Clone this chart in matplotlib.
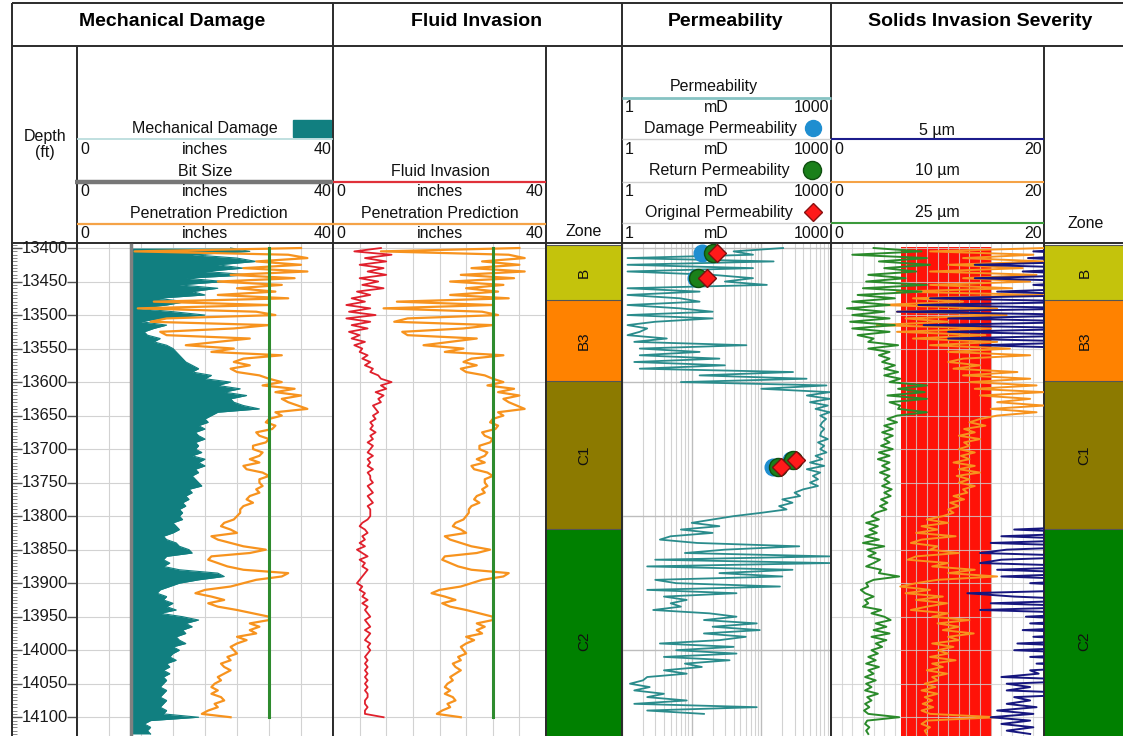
import numpy as np
import matplotlib
matplotlib.use("Agg")
import matplotlib.pyplot as plt
from matplotlib.ticker import MultipleLocator, LogLocator, NullFormatter
from matplotlib.patches import Rectangle

plt.rcParams['font.family'] = ['Liberation Sans', 'DejaVu Sans']

# ---------------- data (5 ft sampling from 13400 ft) ----------------
depth_start = 13400
depth_step = 5

mech_damage = [
    24, 27, 18, 25, 28, 22, 26, 20, 27, 17,
    23, 16, 22, 18, 20, 12.5, 17, 14, 9.5, 15,
    20, 13, 10, 14, 12, 10.5, 11, 13, 12, 14,
    15, 15.5, 16, 16.5, 17, 18, 19, 18, 21, 20,
    24, 22, 25.5, 23, 26.5, 24, 24.5, 26, 28.5, 22,
    21, 20, 20.5, 19, 20, 18.5, 19, 20, 18.5, 19,
    18.5, 19.5, 18, 20, 19, 20, 18.5, 19, 18, 18.5,
    19, 19.5, 17.5, 18, 17, 17.5, 16.5, 17, 16, 16.5,
    16, 16.5, 15, 15.5, 16, 15, 13.5, 14, 15.5, 16,
    17.5, 18, 14, 13.5, 14.5, 13.5, 16, 22, 23, 19,
    16, 14.5, 13, 12.5, 14, 13.5, 15, 14, 15.5, 13,
    16.5, 19, 17, 18, 16.5, 17, 15.5, 16, 17, 15,
    16, 15, 14.5, 15.5, 14, 14.5, 13.5, 14.5, 13.5, 14,
    13.5, 13, 14, 13.5, 13, 14, 13.5, 13, 14, 13.5,
    19, 11.5, 10.5, 11.5, 11, 11.5]

pen_prediction = [
    35, 9, 33, 36, 28, 35, 26, 36, 24, 34,
    22, 32, 25, 31, 22, 33, 12, 30, 9.5, 28,
    31, 14, 11.5, 30, 24.5, 13, 14, 27, 22, 17,
    24.5, 21, 32, 26, 24.5, 27, 24, 25, 28.5, 30,
    32, 29, 34, 31, 35, 32, 33, 34.5, 36, 31,
    32, 30, 29.5, 31, 30.5, 28, 28.5, 30, 29.5, 27.5,
    27.5, 29, 28.5, 27, 28.5, 26, 26.5, 29, 30, 28.5,
    28.5, 29, 28, 28.5, 27, 26.5, 27.5, 26, 25.5, 25.5,
    25, 24.5, 23, 22.5, 24, 25, 21, 22, 24, 26,
    29.5, 27, 21, 20.5, 22, 23.5, 26, 33, 32, 28,
    26, 24, 20, 18.5, 21, 23, 20.5, 22, 25, 27.5,
    30, 30, 27, 28.5, 27, 28, 25, 26.5, 25, 24,
    24.5, 25, 23.5, 24, 22.5, 23, 24, 23, 22, 22.5,
    21.5, 21, 22, 21, 22.5, 23, 21.5, 22, 20.5, 19.5,
    24]

fluid_invasion = [
    9, 4, 11, 6, 10, 5, 9.5, 6.5, 10, 5,
    8.5, 5.5, 9.5, 4.5, 7, 3.5, 6, 2.5, 7, 3,
    8, 2.5, 7, 3.5, 6.5, 3, 5, 3.5, 6, 4,
    5.5, 5, 6.5, 5.5, 7, 6, 7.5, 7, 8.5, 9,
    11, 9, 10, 8, 9.5, 8.5, 9, 7.5, 8, 8.5,
    7.5, 8, 7, 7.5, 7, 8, 7, 7.5, 6.5, 7.5,
    7, 6.5, 7.5, 6.5, 7, 6.5, 7.5, 6.5, 7, 7,
    7.5, 6.5, 7, 7.5, 6.5, 7, 7.5, 6.5, 7, 7,
    7, 6.5, 5.5, 5, 6, 6.5, 5.5, 6, 5, 6,
    4.5, 5.5, 6.5, 5, 6, 5.5, 6.5, 6, 5.5, 5,
    4.5, 5.5, 5, 6, 5.5, 6.5, 5.5, 6.5, 6, 6.5,
    7, 6, 6.5, 7, 6, 7, 6.5, 6, 7, 6.5,
    7, 6.5, 6, 6.5, 6, 6.5, 6, 6.5, 6, 6.5,
    6, 6.5, 6, 6.5, 6.5, 6, 6, 6.5, 6, 6,
    9.5]

permeability = [
    205, 40, 76, 1.2, 150, 1.2, 76, 1.2, 20, 76,
    30, 120, 1.2, 13, 1.2, 6.8, 13, 1.2, 6.8, 20,
    1.2, 20, 3, 1.2, 2.3, 1.8, 1.2, 4.4, 1.5, 61,
    1.8, 13, 1.8, 25, 1.5, 30, 1.8, 285, 13, 446,
    7, 860, 100, 960, 450, 960, 500, 900, 600, 960,
    700, 850, 750, 700, 800, 720, 700, 900, 650, 800,
    700, 860, 600, 750, 500, 800, 450, 700, 550, 650,
    500, 650, 400, 300, 360, 200, 280, 180, 230, 100,
    40, 20, 10, 25, 7, 20, 5, 3.5, 12, 350,
    30, 8, 950, 3, 950, 2.3, 280, 25, 200, 3,
    6, 185, 2.3, 44, 4, 8.5, 5, 7, 2.8, 18,
    44, 15, 86, 20, 95, 15, 60, 25, 3.5, 40,
    6, 44, 4, 35, 8, 14, 4, 8.5, 2.3, 2,
    1.3, 2.5, 1.5, 4, 2.3, 8.5, 1.5, 86, 2.3, 15]

solids_5um = [
    25, 19, 25, 18.5, 25, 13.5, 25, 18, 25, 13.5,
    25, 19, 25, 15.6, 25, 9.3, 25, 8.2, 25, 6.2,
    25, 11, 25, 8.7, 25, 11, 25, 11, 25, 14,
    25, 25, 25, 25, 25, 25, 25, 25, 25, 25,
    25, 25, 25, 25, 25, 25, 25, 25, 25, 25,
    25, 25, 25, 25, 25, 25, 25, 25, 25, 25,
    25, 25, 25, 25, 25, 25, 25, 25, 25, 25,
    25, 25, 25, 25, 25, 25, 25, 25, 25, 25,
    25, 25, 25, 25, 17.2, 25, 16, 25, 15, 25,
    16.5, 14, 25, 16, 14, 25, 15.6, 25, 16, 25,
    18.7, 25, 25, 12.8, 17.2, 25, 15, 25, 14, 25,
    18.3, 25, 18.7, 25, 18, 25, 19, 25, 17.5, 25,
    17.2, 25, 18.7, 25, 19.3, 25, 18.7, 19.5, 16, 25,
    16.5, 18.7, 16.5, 25, 17.2, 18.7, 16.5, 19.3, 15.6, 19,
    15, 18.7, 16, 19, 16.5, 18.7]

solids_10um = [
    20, 9.3, 19, 12.4, 20, 11, 18, 9.3, 19.3, 12.4,
    18.7, 9.3, 17, 6.2, 20, 7.7, 12.4, 4.5, 15.6, 6.2,
    16.5, 7, 11, 4.3, 15, 6.2, 14.5, 7.7, 15.6, 9.3,
    16.8, 11, 18.7, 12.4, 11, 14, 11.5, 17.5, 12.4, 18.7,
    13, 19.3, 13.5, 20, 14, 18.7, 15.6, 20, 15, 19.3,
    15.6, 14, 13, 14.5, 12.5, 13.5, 12, 14, 12.5, 13,
    12, 13.5, 12.2, 13, 11.5, 13.5, 12, 14, 11.8, 13,
    12, 13.5, 12.4, 12.8, 11.5, 12.5, 11.2, 12, 11, 11.5,
    10.5, 9, 11, 8.5, 10, 8, 11.7, 8.5, 7.5, 10,
    9.3, 12, 8, 7.2, 11, 9.5, 13.5, 11, 15.6, 10,
    8, 6.5, 9.3, 7, 10.5, 8, 10.9, 9, 7.5, 11,
    9.5, 13, 10, 12, 10.5, 13.4, 11, 12, 9.5, 11.5,
    10, 11, 9.3, 11.7, 9.5, 10.5, 9, 10.9, 9.5, 10,
    8.8, 9.8, 8.5, 10, 8.8, 9.5, 8.6, 9.6, 8.5, 9.3,
    15.6, 9, 8.5, 9.3, 8.8, 9]

solids_25um = [
    4, 8.5, 2, 9, 4.5, 9.3, 5, 8, 3.5, 7,
    3.3, 9, 3, 8.5, 2.5, 6, 2, 5.5, 1.5, 5,
    2, 5.5, 1.8, 6, 2, 5.5, 2.5, 4, 3.5, 6.3,
    3.5, 5.5, 4.5, 5.5, 4.8, 6, 5, 6.3, 5, 6.5,
    5.5, 9, 6.3, 8.8, 5.3, 9, 5.5, 6.5, 6.3, 9,
    6.2, 5.3, 6.2, 5, 5.8, 4.8, 5.8, 5, 5.5, 4.7,
    5.8, 4.5, 5.5, 4.4, 5.5, 4.8, 5.5, 4.6, 5.5, 5,
    5.5, 4.8, 5.7, 5, 5.6, 4.7, 5.3, 4.6, 5.2, 4.2,
    3.8, 4.5, 3.3, 4.4, 3.6, 4.3, 3.2, 4.5, 3, 5,
    3.4, 4.2, 3.5, 4.6, 4, 3.3, 4.7, 4.5, 6.4, 4,
    3.3, 3.5, 2.8, 3.2, 4, 3.2, 3.5, 3, 4.7, 3.8,
    5, 5.6, 4.2, 5.2, 4, 5.5, 3.8, 5.2, 4.2, 4.8,
    3.8, 4.4, 3.5, 4.2, 3.3, 4.5, 3.5, 4, 3.2, 4.2,
    3.3, 3.8, 3.2, 4.4, 3.4, 3.8, 3.2, 3.6, 3.1, 3.5,
    6.4, 3.4, 3.2, 3.6, 3.3, 3.5]

bit_size = 8.5
cutoff_value = 30
cutoff_depths = [13400, 14100]
severity_low, severity_high = 6.6, 15.1
severity_depths = [13398, 14140]

marker_depths = [13407, 13444, 13727, 13716]
damage_perm = [14, 11.5, 147, 270]
return_perm = [20, 12.3, 173, 284]
original_perm = [23, 16.6, 191, 314]

zone_names = ['B', 'B3', 'C1', 'C2']
zone_tops = [13395, 13478, 13598, 13819]
zone_bases = [13478, 13598, 13819, 14155]
zone_colors = ['#c4c30c', '#ff8200', '#8c7a00', '#008000']

depth_labels = list(range(13400, 14101, 50))

# ---------------- layout ----------------
W, H = 1123, 736
fig = plt.figure(figsize=(W / 100, H / 100), dpi=100)
DTOP, DBOT = 13392.5, 14128.0
EDGE = '#2b2b2b'
GRID = '#d2d2d2'


def prect(x0, y0, x1, y1):
    return [x0 / W, 1 - y1 / H, (x1 - x0) / W, (y1 - y0) / H]


def depth_of(arr):
    return depth_start + depth_step * np.arange(len(arr))


def track(x0, x1):
    ax = fig.add_axes(prect(x0, 243, x1, H))
    ax.set_ylim(DBOT, DTOP)
    for s in ax.spines.values():
        s.set_color(EDGE)
        s.set_linewidth(1.4)
    ax.spines['bottom'].set_visible(False)
    ax.tick_params(length=0, labelleft=False, labelbottom=False)
    return ax


# header overlay
hdr = fig.add_axes([0, 0, 1, 1])
hdr.set_xlim(0, W)
hdr.set_ylim(H, 0)
hdr.axis('off')

def hline(y, x0, x1, color=EDGE, lw=1.4):
    hdr.plot([x0, x1], [y, y], color=color, lw=lw, solid_capstyle='butt')

def vline(x, y0, y1, color=EDGE, lw=1.4):
    hdr.plot([x, x], [y0, y1], color=color, lw=lw, solid_capstyle='butt')

hline(3, 12, W)
hline(46, 12, W)
vline(12, 3, 243)
for x in (333, 622, 831):
    vline(x, 3, 243)
for x in (77, 546, 1044):
    vline(x, 46, 243)

TFS = 14
hdr.text(172, 22, 'Mechanical Damage', ha='center', va='center', fontsize=TFS, fontweight='bold')
hdr.text(477, 22, 'Fluid Invasion', ha='center', va='center', fontsize=TFS, fontweight='bold')
hdr.text(726, 22, 'Permeability', ha='center', va='center', fontsize=TFS, fontweight='bold')
hdr.text(980, 22, 'Solids Invasion Severity', ha='center', va='center', fontsize=TFS, fontweight='bold')

FS = 11.5

def htext(x, y, s, ha='center'):
    hdr.text(x, y, s, ha=ha, va='center', fontsize=FS, color='#111111')

def scale_row(x0, x1, y, lo, unit, hi, xc=None):
    htext(x0 + 3, y, lo, ha='left')
    if unit:
        htext(xc if xc is not None else (x0 + x1) / 2, y, unit)
    htext(x1 - 2, y, hi, ha='right')

htext(45, 136, 'Depth')
htext(45, 153, '(ft)')

# mechanical damage header
htext(205, 129, 'Mechanical Damage')
hdr.add_patch(Rectangle((293, 120), 38, 17, color='#117f80'))
hline(139, 77, 333, color='#b5dada', lw=1.2)
scale_row(77, 333, 150, '0', 'inches', '40', 205)
htext(205, 171, 'Bit Size')
hline(182, 75, 333, color='#777777', lw=3.2)
scale_row(77, 333, 192, '0', 'inches', '40', 205)
htext(209, 214, 'Penetration Prediction')
hline(224, 77, 333, color='#f5a347', lw=1.6)
scale_row(77, 333, 234, '0', 'inches', '40', 205)

# fluid invasion header
htext(440, 171, 'Fluid Invasion')
hline(182, 333, 546, color='#e0313a', lw=1.6)
scale_row(333, 546, 192, '0', 'inches', '40', 440)
htext(440, 214, 'Penetration Prediction')
hline(224, 333, 546, color='#f5a347', lw=1.6)
scale_row(333, 546, 234, '0', 'inches', '40', 440)

htext(584, 231, 'Zone')
htext(1086, 224, 'Zone')

# permeability header
htext(714, 87, 'Permeability')
hline(98, 622, 831, color='#86c3c3', lw=2)
scale_row(622, 831, 107, '1', 'mD', '1000', 716)
htext(797, 129, 'Damage Permeability', ha='right')
hdr.plot([813], [128], 'o', ms=11.5, color='#1f8ed0', mec='#1f8ed0')
hline(139, 622, 831, color='#d0d0d0', lw=1)
scale_row(622, 831, 150, '1', 'mD', '1000', 716)
htext(790, 171, 'Return Permeability', ha='right')
hdr.plot([812], [170], 'o', ms=13, color='#1a801a', mec='#0f4f0f')
hline(182, 622, 831, color='#d0d0d0', lw=1)
scale_row(622, 831, 192, '1', 'mD', '1000', 716)
htext(793, 213, 'Original Permeability', ha='right')
hdr.plot([813], [212], 'D', ms=9, color='#ff1a1a', mec='#8a1010')
hline(223, 622, 831, color='#d0d0d0', lw=1)
scale_row(622, 831, 234, '1', 'mD', '1000', 716)

# solids header
htext(937, 130, '5 µm')
hline(139, 831, 1044, color='#1c1c8c', lw=1.5)
scale_row(831, 1044, 150, '0', '', '20')
htext(937, 171, '10 µm')
hline(182, 831, 1044, color='#f5a347', lw=1.5)
scale_row(831, 1044, 192, '0', '', '20')
htext(937, 213, '25 µm')
hline(223, 831, 1044, color='#3c9a3c', lw=1.5)
scale_row(831, 1044, 234, '0', '', '20')

# ---------------- depth column ----------------
axd = track(12, 77)
axd.set_xlim(0, 1)
axd.set_xticks([])
axd.yaxis.set_major_locator(MultipleLocator(50))
axd.yaxis.set_minor_locator(MultipleLocator(5))
axd.tick_params(axis='y', which='major', left=True, right=True, direction='in',
                length=7, width=1, color='#555555', labelleft=False)
axd.tick_params(axis='y', which='minor', left=True, right=False, direction='in',
                length=3.5, width=0.6, color='#777777')
for d in depth_labels:
    axd.text(0.51, d, f'{d}', transform=axd.get_yaxis_transform(), ha='center',
             va='center', fontsize=12, color='#1a1a1a')

# ---------------- mechanical damage ----------------
axm = track(77, 333)
axm.set_xlim(0, 40)
axm.xaxis.set_major_locator(MultipleLocator(5))
axm.yaxis.set_major_locator(MultipleLocator(50))
axm.grid(True, color=GRID, lw=0.8)
dm = depth_of(mech_damage)
axm.fill_betweenx(dm, bit_size, mech_damage, color='#117f80', lw=0, zorder=2)
axm.plot(mech_damage, dm, color='#117f80', lw=0.8, zorder=2)
axm.plot([bit_size, bit_size], [dm[0] - 5, DBOT], color='#808080', lw=2.5, zorder=3)
dp = depth_of(pen_prediction)
axm.plot(pen_prediction, dp, color='#f7931e', lw=1.6, zorder=4)
axm.plot([cutoff_value, cutoff_value], cutoff_depths, color='#2e8b2e', lw=2.2, zorder=5)

# ---------------- fluid invasion ----------------
axf = track(333, 546)
axf.set_xlim(0, 40)
axf.xaxis.set_major_locator(MultipleLocator(5))
axf.yaxis.set_major_locator(MultipleLocator(100))
axf.grid(True, color=GRID, lw=0.8)
axf.plot(fluid_invasion, depth_of(fluid_invasion), color='#e0202c', lw=1.3, zorder=3)
axf.plot(pen_prediction, dp, color='#f7931e', lw=1.6, zorder=4)
axf.plot([cutoff_value, cutoff_value], cutoff_depths, color='#2e8b2e', lw=2.2, zorder=5)

# ---------------- zone tracks ----------------
def zone_track(x0, x1):
    az = track(x0, x1)
    az.set_xlim(0, 1)
    for name, top, base, col in zip(zone_names, zone_tops, zone_bases, zone_colors):
        az.fill_between([0, 1], top, base, color=col, lw=0)
        az.plot([0, 1], [top, top], color='#555555', lw=0.8)
        mid = (top + base) / 2
        az.text(0.5, mid, name, rotation=90, ha='center', va='center', fontsize=11,
                color='#111111', clip_on=True)
    return az

zone_track(546, 622)
zone_track(1044, W + 2)

# ---------------- permeability ----------------
axp = track(622, 831)
axp.set_xscale('log')
axp.set_xlim(1, 1000)
axp.xaxis.set_major_locator(LogLocator(base=10, numticks=10))
axp.xaxis.set_minor_locator(LogLocator(base=10, subs=np.arange(2, 10), numticks=10))
axp.xaxis.set_minor_formatter(NullFormatter())
axp.tick_params(which='both', length=0, labelbottom=False)
axp.yaxis.set_major_locator(MultipleLocator(200))
axp.grid(True, which='major', color='#bdbdbd', lw=1.0)
axp.grid(True, which='minor', axis='x', color=GRID, lw=0.8)
axp.plot(permeability, depth_of(permeability), color='#2a8c8c', lw=1.3, zorder=3)
axp.plot(damage_perm, marker_depths, 'o', ms=12, color='#1f8ed0', mec='#1f8ed0', zorder=4)
axp.plot(return_perm, marker_depths, 'o', ms=13, color='#1a801a', mec='#0f4f0f', zorder=5)
axp.plot(original_perm, marker_depths, 'D', ms=9, color='#ff1a1a', mec='#7a1010', zorder=6)

# ---------------- solids invasion ----------------
axs = track(831, 1044)
axs.set_xlim(0, 20)
axs.xaxis.set_major_locator(MultipleLocator(1))
axs.yaxis.set_major_locator(MultipleLocator(50))
axs.grid(True, color='#cfcfcf', lw=0.8, alpha=0.8)
axs.fill_betweenx(severity_depths, severity_low, severity_high, color='#ff1208', lw=0, zorder=1)
ds = depth_of(solids_10um)
axs.plot(solids_10um, ds, color='#f7931e', lw=1.4, zorder=3)
axs.plot(solids_5um, ds, color='#16167e', lw=1.4, zorder=4)
axs.plot(solids_25um, ds, color='#2a8a2a', lw=1.4, zorder=5)

fig.savefig('out.png', dpi=100)
